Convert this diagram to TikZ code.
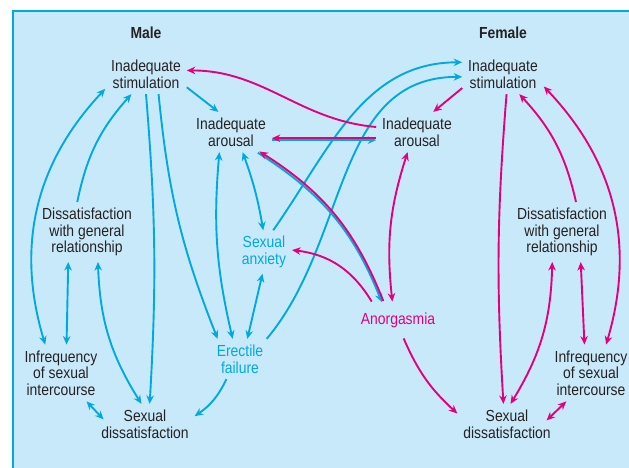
\documentclass[tikz,border=0pt]{standalone}
\usepackage{fontspec}
\setmainfont{Liberation Sans}[FakeStretch=0.87]
\usetikzlibrary{arrows.meta,positioning}
\definecolor{panel}{RGB}{200,233,249}
\definecolor{maleblue}{RGB}{0,169,226}
\definecolor{femalepink}{RGB}{228,0,125}
\definecolor{ink}{RGB}{38,34,35}

\begin{document}
\begin{tikzpicture}[auto,x=1pt,y=1pt,on grid,>={Stealth[length=8.5pt,width=7.5pt]}]
\tikzstyle{every path}=[line width=1.9pt];
\tikzstyle{every node}=[align=center,inner sep=5pt,text=ink,font=\fontsize{16}{16.6}\selectfont];
\tikzstyle{maleflow}=[maleblue];
\tikzstyle{femaleflow}=[femalepink];
\useasboundingbox (0,0) rectangle (629,-467);
\fill[panel] (13,-11) rectangle (640,-480);
\draw[maleblue,line width=1.2pt] (13,-480) -- (13,-11) -- (640,-11);

\node (male) at (146,-33) {\bfseries Male};
\node (female) at (503,-33) {\bfseries Female};
\node (mstim) [below=41pt of male] {Inadequate\\stimulation};
\node (marous) [below right=58pt and 85pt of mstim] {Inadequate\\arousal};
\node (mdiss) [below left=158pt and 59pt of mstim] {Dissatisfaction\\with general\\relationship};
\node (minfr) [below left=141pt and 26pt of mdiss] {Infrequency\\of sexual\\intercourse};
\node (msdis) [below right=192pt and 58pt of mdiss] {Sexual\\dissatisfaction};
\node[text=maleblue] (manx) [below right=120pt and 33pt of marous] {Sexual\\anxiety};
\node[text=maleblue] (merect) [below left=107pt and 24pt of manx] {Erectile\\failure};
\node (fstim) [below=41pt of female] {Inadequate\\stimulation};
\node (farous) [below left=58pt and 86pt of fstim] {Inadequate\\arousal};
\node (fdiss) [below right=158pt and 59pt of fstim] {Dissatisfaction\\with general\\relationship};
\node (finfr) [below right=141pt and 29pt of fdiss] {Infrequency\\of sexual\\intercourse};
\node (fsdis) [below left=192pt and 55pt of fdiss] {Sexual\\dissatisfaction};
\node[text=femalepink,inner ysep=10pt] (anorg) [below left=188pt and 19pt of farous] {Anorgasmia};

\path[->,maleflow] (mstim.-18) edge (marous.122);
\path[->,maleflow] (mdiss.108) edge [bend left=15] (mstim.234);
\path[<->,maleflow] (minfr.119) edge [bend left=30] (mstim.200);
\path[<->,maleflow] (mdiss.238) edge (minfr.79);
\path[<->,maleflow] (mdiss.-70) edge [bend right=15] (msdis.100);
\path[<->,maleflow] (minfr.-48) edge [shorten >=-12pt] (msdis.165);
\path[->,maleflow] (mstim.-90) edge [bend left=4] (msdis.77);
\path[->,maleflow] (mstim.-58) edge [bend right=8] (merect.138);
\path[<->,maleflow] (marous.-120) edge [bend right=9] (merect.110);
\path[<->,maleflow] (marous.-60) edge [bend left=5] (manx.92);
\path[<->,maleflow] (manx.-94) edge (merect.70);
\path[->,maleflow] (merect.-124) edge [bend left=15] (msdis.9);
\path[->,maleflow] (manx.67) edge [out=55,in=180] (fstim.164);
\path[->,maleflow] (merect.37) edge [out=50,in=180] (fstim.-176);
\draw[->,maleflow,transform canvas={yshift=-0.95pt}] (marous.-10) -- (farous.190);
\draw[->,maleflow,transform canvas={shift={(-0.75pt,-0.65pt)}}] (marous.-36) to [bend left=18] (anorg.130);

\draw[->,femaleflow,transform canvas={yshift=0.95pt}] (farous.190) -- (marous.-10);
\draw[->,femaleflow,transform canvas={shift={(0.75pt,0.65pt)}}] (anorg.130) to [bend right=18] (marous.-36);
\path[->,femaleflow] (farous.173) edge [out=175,in=0] (mstim.5);
\path[->,femaleflow] (fstim.-161) edge (farous.51);
\path[<->,femaleflow] (farous.-115) edge [bend right=12] (anorg.107);
\path[->,femaleflow] (anorg.145) edge [bend right=26] (manx.4);
\path[->,femaleflow] (anorg.-73) edge [bend right=12] (fsdis.168);
\path[->,femaleflow] (fstim.-80) edge [bend right=4] (fsdis.100);
\path[->,femaleflow] (fdiss.65) edge [bend right=15] (fstim.-51);
\path[<->,femaleflow] (finfr.62) edge [bend right=30] (fstim.-17);
\path[<->,femaleflow] (fdiss.-58) edge (finfr.103);
\path[<->,femaleflow] (fdiss.-108) edge [bend left=15] (fsdis.80);
\path[<->,femaleflow] (finfr.-131) edge [shorten >=-14pt] (fsdis.15);
\end{tikzpicture}
\end{document}
